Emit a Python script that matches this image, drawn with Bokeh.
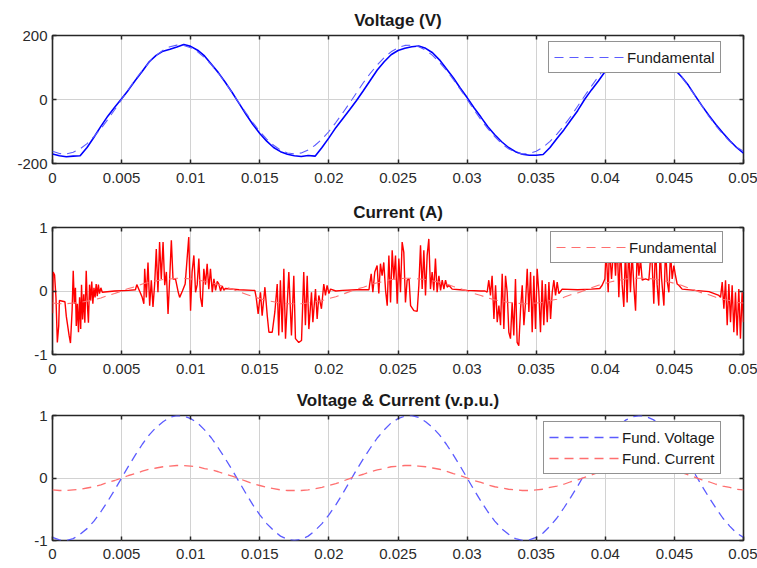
from bokeh.plotting import figure
from bokeh.layouts import column
from bokeh.models import (FixedTicker, LinearAxis, Legend, LegendItem, Range1d,
                          CustomLabelingPolicy)
from bokeh.embed import file_html
from bokeh.resources import INLINE

# ---------------- data ----------------
# sample instants of the sampled waveforms (every 0.5 ms, 0 .. 0.05 s)
time_s = [round(k * 0.0005, 4) for k in range(101)]

voltage_measured_V = [
    -170, -176, -179, -177, -176, -150, -118, -84, -52, -24,
    2, 30, 60, 88, 118, 138, 151, 157, 164, 172,
    166, 154, 136, 110, 84, 54, 22, -12, -46, -78,
    -106, -130, -150, -163, -171, -176, -178, -175, -177, -150,
    -120, -88, -60, -32, -3, 28, 60, 92, 118, 140,
    153, 160, 165, 167, 160, 146, 124, 96, 68, 36,
    6, -26, -55, -85, -110, -132, -150, -163, -171, -174,
    -174, -172, -150, -122, -95, -65, -35, 0, 30, 58,
    88, 115, 138, 152, 162, 168, 166, 156, 140, 118,
    95, 72, 45, 12, -20, -50, -78, -104, -128, -150,
    -168,
]

voltage_fund_V = [
    -162, -169, -170, -165, -154, -138, -116, -91, -63, -32,
    0, 32, 63, 91, 116, 138, 154, 165, 170, 169,
    162, 149, 131, 108, 82, 53, 21, -11, -42, -72,
    -100, -124, -143, -158, -167, -170, -167, -158, -143, -124,
    -100, -72, -42, -11, 21, 53, 82, 108, 131, 149,
    162, 169, 170, 165, 154, 138, 116, 91, 63, 32,
    0, -32, -63, -91, -116, -138, -154, -165, -170, -169,
    -162, -149, -131, -108, -82, -53, -21, 11, 42, 72,
    100, 124, 143, 158, 167, 170, 167, 158, 143, 124,
    100, 72, 42, 11, -21, -53, -82, -108, -131, -149,
    -162,
]

current_fund_A = [
    -0.19, -0.20, -0.20, -0.19, -0.18, -0.16, -0.14, -0.11, -0.07, -0.04,
    0.00, 0.04, 0.07, 0.11, 0.14, 0.16, 0.18, 0.19, 0.20, 0.20,
    0.19, 0.18, 0.15, 0.13, 0.10, 0.06, 0.03, -0.01, -0.05, -0.09,
    -0.12, -0.15, -0.17, -0.19, -0.20, -0.20, -0.20, -0.19, -0.17, -0.15,
    -0.12, -0.09, -0.05, -0.01, 0.03, 0.06, 0.10, 0.13, 0.15, 0.18,
    0.19, 0.20, 0.20, 0.19, 0.18, 0.16, 0.14, 0.11, 0.07, 0.04,
    0.00, -0.04, -0.07, -0.11, -0.14, -0.16, -0.18, -0.19, -0.20, -0.20,
    -0.19, -0.18, -0.15, -0.13, -0.10, -0.06, -0.03, 0.01, 0.05, 0.09,
    0.12, 0.15, 0.17, 0.19, 0.20, 0.20, 0.20, 0.19, 0.17, 0.15,
    0.12, 0.09, 0.05, 0.01, -0.03, -0.06, -0.10, -0.13, -0.15, -0.18,
    -0.19,
]

voltage_fund_pu = [
    -0.95, -0.99, -1.00, -0.97, -0.90, -0.81, -0.69, -0.54, -0.37, -0.19,
    0.00, 0.19, 0.37, 0.54, 0.69, 0.81, 0.90, 0.97, 1.00, 0.99,
    0.95, 0.88, 0.77, 0.64, 0.48, 0.31, 0.13, -0.06, -0.25, -0.43,
    -0.59, -0.73, -0.84, -0.93, -0.98, -1.00, -0.98, -0.93, -0.84, -0.73,
    -0.59, -0.43, -0.25, -0.06, 0.13, 0.31, 0.48, 0.64, 0.77, 0.88,
    0.95, 0.99, 1.00, 0.97, 0.90, 0.81, 0.69, 0.54, 0.37, 0.19,
    0.00, -0.19, -0.37, -0.54, -0.69, -0.81, -0.90, -0.97, -1.00, -0.99,
    -0.95, -0.88, -0.77, -0.64, -0.48, -0.31, -0.13, 0.06, 0.25, 0.43,
    0.59, 0.73, 0.84, 0.93, 0.98, 1.00, 0.98, 0.93, 0.84, 0.73,
    0.59, 0.43, 0.25, 0.06, -0.13, -0.31, -0.48, -0.64, -0.77, -0.88,
    -0.95,
]

current_fund_pu = current_fund_A

current_measured = [
    (0.0, -0.35), (0.00005, 0.30), (0.00015, 0.25), (0.00025, -0.10), (0.00035, -0.81),
    (0.00045, -0.55), (0.0005, -0.15), (0.0009, -0.17), (0.001, -0.40), (0.0012, -0.70),
    (0.0013, -0.82), (0.00142, -0.30), (0.0015, 0.32), (0.00158, -0.20), (0.00166, 0.05),
    (0.00172, -0.55), (0.0018, -0.20), (0.00188, -0.65), (0.00196, -0.10), (0.00204, -0.60),
    (0.0021, 0.10), (0.00218, -0.45), (0.00226, -0.05), (0.00234, -0.50), (0.00244, 0.32),
    (0.00252, -0.20), (0.0026, -0.50), (0.00268, 0.10), (0.00276, -0.15), (0.00284, 0.15),
    (0.00292, -0.20), (0.003, 0.05), (0.00308, -0.10), (0.00316, 0.11), (0.00324, -0.08),
    (0.00332, 0.10), (0.0034, -0.04), (0.0035, 0.05), (0.0036, -0.02),
    (0.0045, 0.00), (0.0055, 0.01), (0.006, 0.02), (0.0061, 0.10), (0.0063, 0.00),
    (0.00649, -0.10), (0.00661, -0.20), (0.00667, 0.35), (0.00679, -0.10), (0.00691, 0.45),
    (0.00703, -0.23), (0.00715, 0.17), (0.00727, -0.25), (0.00739, 0.10), (0.00751, 0.66),
    (0.00763, -0.02), (0.00775, 0.77), (0.00787, 0.19), (0.008, 0.77), (0.00812, 0.09),
    (0.00824, 0.30), (0.00836, -0.36), (0.00848, 0.20), (0.0086, 0.80), (0.00872, 0.19),
    (0.0089, 0.19), (0.0091, -0.02), (0.0092, -0.10), (0.0094, 0.00), (0.0096, 0.11),
    (0.00986, 0.85), (0.00999, -0.31), (0.0101, 0.30), (0.01023, 0.56), (0.01035, -0.02),
    (0.01047, 0.10), (0.01059, 0.51), (0.01071, -0.10), (0.01083, -0.25), (0.01095, 0.35),
    (0.01107, 0.10), (0.01119, 0.43), (0.01131, 0.03), (0.01143, 0.35), (0.01156, -0.02),
    (0.01168, 0.19), (0.0118, 0.01), (0.01192, 0.15), (0.01204, 0.11), (0.01216, 0.00),
    (0.01228, 0.08), (0.0124, 0.01), (0.0125, 0.04),
    (0.0135, 0.02), (0.0145, 0.01),
    (0.01464, 0.01), (0.01474, -0.10), (0.01488, -0.36), (0.01505, -0.02), (0.01517, -0.39),
    (0.01537, 0.06), (0.01554, -0.39), (0.01566, -0.65), (0.0159, -0.65), (0.01609, -0.33),
    (0.01626, 0.11), (0.01637, -0.70), (0.01649, 0.17), (0.01662, -0.65), (0.01674, 0.35),
    (0.01686, -0.75), (0.0171, 0.30), (0.01729, -0.70), (0.01746, 0.24), (0.01758, -0.75),
    (0.01782, -0.81), (0.01802, -0.78), (0.01818, 0.30), (0.0183, -0.54), (0.01843, 0.24),
    (0.01855, -0.60), (0.01874, -0.02), (0.01884, -0.49), (0.01903, 0.03), (0.01915, -0.44),
    (0.01927, -0.07), (0.01946, -0.28), (0.01963, 0.11), (0.01975, -0.07), (0.01987, 0.09),
    (0.02, -0.04), (0.02012, 0.03), (0.0205, 0.00),
    (0.021, 0.01), (0.022, 0.02), (0.0229, 0.02),
    (0.02294, 0.09), (0.02306, 0.27), (0.02318, -0.02), (0.02332, 0.30), (0.02349, 0.40),
    (0.02361, -0.04), (0.02373, 0.43), (0.02385, 0.24), (0.02397, 0.45), (0.0241, 0.01),
    (0.02422, -0.23), (0.02434, 0.56), (0.02446, -0.18), (0.02458, 0.64), (0.0247, 0.19),
    (0.02482, 0.56), (0.02494, -0.20), (0.02506, 0.51), (0.02518, -0.02), (0.0253, 0.77),
    (0.02542, 0.61), (0.02554, -0.18), (0.02566, 0.17), (0.0258, 0.19), (0.02591, -0.23),
    (0.02615, -0.31), (0.02639, -0.32), (0.02651, 0.09), (0.02663, 0.72), (0.02675, 0.03),
    (0.02687, 0.64), (0.02699, -0.07), (0.02711, 0.56), (0.02723, 0.82), (0.02735, 0.03),
    (0.02747, 0.30), (0.02759, 0.01), (0.02771, 0.51), (0.02783, -0.02), (0.02796, 0.24),
    (0.02808, 0.01), (0.0282, 0.17), (0.02832, 0.03), (0.02844, 0.17), (0.02856, 0.06),
    (0.02868, 0.09), (0.02892, 0.03),
    (0.0295, 0.02), (0.03, 0.01), (0.031, 0.00), (0.0313, 0.00),
    (0.03145, -0.02), (0.03157, 0.17), (0.03169, -0.07), (0.03181, 0.24), (0.03194, -0.44),
    (0.03206, 0.09), (0.03218, -0.49), (0.0323, -0.23), (0.03242, -0.54), (0.03254, 0.27),
    (0.03266, -0.60), (0.03278, 0.24), (0.0329, -0.02), (0.03302, -0.65), (0.03314, -0.75),
    (0.03326, -0.18), (0.03338, -0.70), (0.0335, 0.19), (0.03362, -0.81), (0.03374, -0.86),
    (0.03387, -0.28), (0.03399, 0.09), (0.03411, -0.54), (0.03423, -0.18), (0.03435, 0.35),
    (0.03447, -0.33), (0.03459, 0.30), (0.03471, -0.65), (0.03483, 0.24), (0.03495, -0.60),
    (0.03507, 0.35), (0.03519, -0.02), (0.03531, -0.65), (0.03543, 0.17), (0.03555, -0.54),
    (0.03567, 0.11), (0.0358, -0.49), (0.03592, 0.14), (0.03604, -0.44), (0.03616, -0.02),
    (0.03628, 0.17), (0.0364, -0.07), (0.03652, 0.14), (0.03664, -0.04), (0.03688, 0.03),
    (0.038, 0.02), (0.039, 0.03), (0.0396, 0.04),
    (0.03977, 0.09), (0.03997, 0.19), (0.04006, 0.65), (0.04021, -0.02), (0.0403, 0.70),
    (0.04045, 0.19), (0.04062, 0.75), (0.04074, 0.24), (0.04086, 0.80), (0.04098, -0.10),
    (0.0411, 0.70), (0.04122, 0.10), (0.04134, -0.25), (0.04146, 0.65), (0.04158, -0.18),
    (0.0417, 0.72), (0.04182, -0.02), (0.04194, 0.60), (0.04206, 0.10), (0.04219, -0.31),
    (0.04231, 0.66), (0.04243, 0.24), (0.04255, 0.50), (0.04267, 0.17), (0.04291, 0.19),
    (0.04315, 0.17), (0.04334, 0.70), (0.04351, -0.20), (0.04363, 0.75), (0.04375, 0.10),
    (0.04387, -0.23), (0.04397, 0.68), (0.04407, 0.20), (0.04424, -0.23), (0.04436, 0.70),
    (0.04448, 0.15), (0.0446, -0.02), (0.04472, 0.60), (0.04484, 0.19), (0.04496, 0.40),
    (0.04508, 0.24), (0.0452, 0.11), (0.04532, 0.09), (0.04556, 0.03),
    (0.0465, 0.01), (0.0475, -0.01), (0.04822, -0.07),
    (0.04834, -0.10), (0.04846, 0.14), (0.04858, -0.28), (0.0487, 0.17), (0.04882, -0.54),
    (0.04894, 0.11), (0.04906, -0.49), (0.04918, 0.09), (0.0493, -0.65), (0.04942, -0.02),
    (0.04954, -0.70), (0.04966, 0.03), (0.04978, -0.75), (0.0499, -0.02), (0.05, -0.49),
]

x_ticks = [0, 0.005, 0.01, 0.015, 0.02, 0.025, 0.03, 0.035, 0.04, 0.045, 0.05]
x_tick_labels = ["0", "0.005", "0.01", "0.015", "0.02", "0.025", "0.03", "0.035", "0.04", "0.045", "0.05"]
v_ticks = [-200, 0, 200]
v_tick_labels = ["-200", "0", "200"]
pu_ticks = [-1, 0, 1]
pu_tick_labels = ["-1", "0", "1"]

titles = ["Voltage (V)", "Current (A)", "Voltage & Current (v.p.u.)"]

# ---------------- styling ----------------
FONT = "Liberation Sans"
BLUE = "#0000ff"
BLUE_D = "#5b5bff"
RED = "#ff0000"
RED_D = "#ff6f6f"
DASH = "9 6"
FRAME = "#262626"


def no_labels():
    return CustomLabelingPolicy(code="return new Set()")


def make_panel(title, y_ticks, y_labels, y_lo, y_hi, height, top, bottom, x_standoff):
    p = figure(width=757, height=height, x_range=Range1d(0, 0.05),
               y_range=Range1d(y_lo, y_hi), output_backend="svg",
               toolbar_location=None, min_border_left=52, min_border_right=14,
               min_border_top=top, min_border_bottom=bottom)
    p.title.text = title
    p.title.align = "center"
    p.title.text_font = FONT
    p.title.text_font_size = "17px"
    p.title.text_font_style = "bold"
    p.title.text_color = "#1a1a1a"
    p.title.standoff = 3
    p.outline_line_color = FRAME
    p.outline_line_width = 1.6
    p.outline_line_alpha = 1
    p.background_fill_color = "white"
    p.border_fill_color = "white"

    xa = p.xaxis[0]
    xa.ticker = FixedTicker(ticks=x_ticks)
    xa.major_label_overrides = {x: s for x, s in zip(x_ticks, x_tick_labels)}
    ya = p.yaxis[0]
    ya.ticker = FixedTicker(ticks=y_ticks)
    ya.major_label_overrides = {y: s for y, s in zip(y_ticks, y_labels)}
    for ax in (xa, ya):
        ax.axis_line_color = None
        ax.major_tick_in = 4
        ax.major_tick_out = 0
        ax.major_tick_line_color = FRAME
        ax.major_tick_line_width = 1.5
        ax.minor_tick_line_color = None
        ax.major_label_text_font = FONT
        ax.major_label_text_font_size = "15px"
        ax.major_label_text_color = "#2a2a2a"
    xa.major_label_standoff = x_standoff
    ya.major_label_standoff = 5

    top_ax = LinearAxis(ticker=FixedTicker(ticks=x_ticks), axis_line_color=None,
                        major_tick_in=4, major_tick_out=0, major_tick_line_color=FRAME,
                        major_tick_line_width=1.5, minor_tick_line_color=None,
                        major_label_text_font_size="1px", major_label_standoff=0,
                        major_label_policy=no_labels())
    right_ax = LinearAxis(ticker=FixedTicker(ticks=y_ticks), axis_line_color=None,
                          major_tick_in=4, major_tick_out=0, major_tick_line_color=FRAME,
                          major_tick_line_width=1.5, minor_tick_line_color=None,
                          major_label_text_font_size="1px", major_label_standoff=0,
                          major_label_policy=no_labels())
    p.add_layout(top_ax, "above")
    p.add_layout(right_ax, "right")

    p.xgrid.ticker = FixedTicker(ticks=x_ticks)
    p.ygrid.ticker = FixedTicker(ticks=y_ticks)
    for g in (p.xgrid[0], p.ygrid[0]):
        g.grid_line_color = "#d2d2d2"
        g.grid_line_width = 1
    return p


def style_legend(leg, x, y):
    leg.location = (x, y)
    leg.border_line_color = FRAME
    leg.border_line_width = 1.5
    leg.background_fill_color = "white"
    leg.background_fill_alpha = 1
    leg.label_text_font = FONT
    leg.label_text_font_size = "15px"
    leg.label_text_color = "#1a1a1a"
    leg.glyph_width = 70
    leg.glyph_height = 20
    leg.label_height = 20
    leg.label_standoff = 3
    leg.padding = 5
    leg.spacing = 1
    leg.margin = 0


# ---- panel 1: voltage ----
p1 = make_panel(titles[0], v_ticks, v_tick_labels, -200, 200, 195, 35, 32, 9)
p1.line(time_s, voltage_measured_V, color=BLUE, line_width=1.6)
r1 = p1.line(time_s, voltage_fund_V, color=BLUE_D, line_width=1.1, line_dash=DASH)
leg1 = Legend(items=[LegendItem(label="Fundamental", renderers=[r1])])
style_legend(leg1, 496, 90)
p1.add_layout(leg1)

# ---- panel 2: current ----
ct = [t for t, _ in current_measured]
ci = [i for _, i in current_measured]
p2 = make_panel(titles[1], pu_ticks, pu_tick_labels, -1, 1, 190, 32, 31, 9)
p2.line(ct, ci, color=RED, line_width=1.4)
r2 = p2.line(time_s, current_fund_A, color=RED_D, line_width=1.1, line_dash=DASH)
leg2 = Legend(items=[LegendItem(label="Fundamental", renderers=[r2])])
style_legend(leg2, 498, 91)
p2.add_layout(leg2)

# ---- panel 3: per-unit fundamentals ----
p3 = make_panel(titles[2], pu_ticks, pu_tick_labels, -1, 1, 183, 30, 28, 8)
r3a = p3.line(time_s, voltage_fund_pu, color=BLUE_D, line_width=1.3, line_dash=DASH)
r3b = p3.line(time_s, current_fund_pu, color=RED_D, line_width=1.3, line_dash=DASH)
leg3 = Legend(items=[LegendItem(label="Fund. Voltage", renderers=[r3a]),
                     LegendItem(label="Fund. Current", renderers=[r3b])])
style_legend(leg3, 491, 66)
p3.add_layout(leg3)

layout = column(p1, p2, p3, spacing=0)
open("out.html", "w").write(file_html(layout, INLINE))
